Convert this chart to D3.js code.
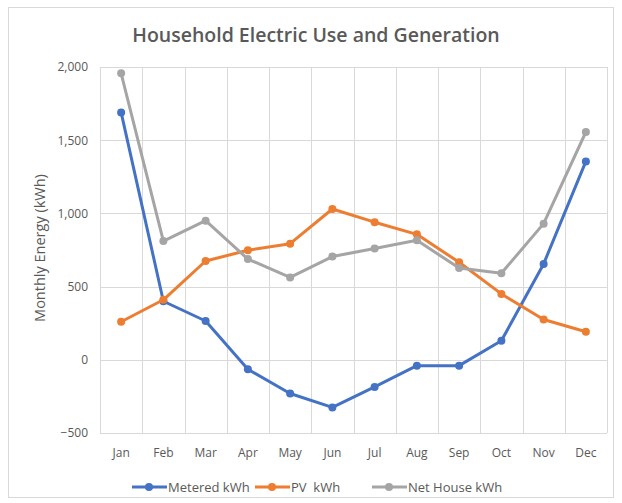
<!DOCTYPE html>
<html>
<head>
<meta charset="utf-8">
<script src="https://cdn.jsdelivr.net/npm/d3@7"></script>
<style>
  body { margin: 0; background: #fff; }
  text { font-family: "Open Sans", "Noto Sans", sans-serif; fill: #595959; }
</style>
</head>
<body>
<svg id="chart" width="622" height="503"></svg>
<script>
// valores
var months = ["Jan", "Feb", "Mar", "Apr", "May", "Jun", "Jul", "Aug", "Sep", "Oct", "Nov", "Dec"];
var metered = [1690, 400, 265, -65, -230, -325, -185, -40, -40, 130, 655, 1355];
var pv = [260, 410, 675, 748, 793, 1030, 940, 857, 666, 450, 275, 192];
var netHouse = [1957, 811, 950, 688, 563, 705, 760, 816, 627, 591, 930, 1556];
var yTicks = [-500, 0, 500, 1000, 1500, 2000];

var seriesNames = ["Metered kWh", "PV  kWh", "Net House kWh"];
var seriesColors = ["#4472C4", "#ED7D31", "#A5A5A5"];
var series = [metered, pv, netHouse];

var svg = d3.select("#chart");

var plotLeft = 100, plotRight = 607, plotTop = 67, plotBottom = 433;

// borda externa
svg.append("rect")
    .attr("x", 8.5).attr("y", 7.5)
    .attr("width", 605).attr("height", 490)
    .attr("fill", "none")
    .attr("stroke", "#d9d9d9");

var xScale = d3.scaleBand()
    .domain(months)
    .range([plotLeft, plotRight]);

var yScale = d3.scaleLinear()
    .domain([-500, 2000])
    .range([plotBottom, plotTop]);

// grade horizontal
svg.append("g")
    .selectAll("line")
    .data(yTicks)
    .enter()
    .append("line")
        .attr("x1", plotLeft).attr("x2", plotRight)
        .attr("y1", d => Math.round(yScale(d)) + 0.5)
        .attr("y2", d => Math.round(yScale(d)) + 0.5)
        .attr("stroke", "#d9d9d9");

// grade vertical (limites das categorias)
var bounds = months.map(m => xScale(m)).concat([plotRight]);
svg.append("g")
    .selectAll("line")
    .data(bounds)
    .enter()
    .append("line")
        .attr("x1", d => Math.round(d) + 0.5).attr("x2", d => Math.round(d) + 0.5)
        .attr("y1", plotTop).attr("y2", plotBottom)
        .attr("stroke", "#d9d9d9");

// rotulos do eixo y
var yAxis = d3.axisLeft(yScale)
    .tickValues(yTicks)
    .tickSize(0)
    .tickPadding(12)
    .tickFormat(d3.format(","));

svg.append("g")
    .attr("transform", "translate(" + plotLeft + ",0)")
    .call(yAxis)
    .call(g => g.select(".domain").remove())
    .selectAll("text")
        .style("font-size", "12px")
        .style("font-family", "'Open Sans', sans-serif")
        .attr("fill", "#595959");

// rotulos do eixo x
var xAxis = d3.axisBottom(xScale).tickSize(0).tickPadding(15);
svg.append("g")
    .attr("transform", "translate(0," + plotBottom + ")")
    .call(xAxis)
    .call(g => g.select(".domain").remove())
    .selectAll("text")
        .style("font-size", "12px")
        .style("font-family", "'Open Sans', sans-serif")
        .attr("fill", "#595959");

// titulo
svg.append("text")
    .attr("x", 316)
    .attr("y", 42)
    .attr("text-anchor", "middle")
    .style("font-size", "19.5px")
    .style("font-weight", "600")
    .text("Household Electric Use and Generation");

// titulo do eixo y
svg.append("text")
    .attr("transform", "translate(45," + ((plotTop + plotBottom) / 2 - 2) + ") rotate(-90)")
    .attr("text-anchor", "middle")
    .style("font-size", "14.5px")
    .text("Monthly Energy (kWh)");

var line = d3.line()
    .x((d, i) => xScale(months[i]) + xScale.bandwidth() / 2)
    .y(d => yScale(d));

for (var s = 0; s < series.length; s++) {
    svg.append("path")
        .datum(series[s])
        .attr("d", line)
        .attr("fill", "none")
        .attr("stroke", seriesColors[s])
        .attr("stroke-width", 3)
        .attr("stroke-linejoin", "round");

    svg.append("g")
        .selectAll("circle")
        .data(series[s])
        .enter()
        .append("circle")
            .attr("cx", (d, i) => xScale(months[i]) + xScale.bandwidth() / 2)
            .attr("cy", d => yScale(d))
            .attr("r", 4)
            .attr("fill", seriesColors[s]);
}

// legenda
var legendX = [132, 255, 372];
var legend = svg.append("g");
for (var k = 0; k < seriesNames.length; k++) {
    var lg = legend.append("g").attr("transform", "translate(" + legendX[k] + ",487)");
    lg.append("line")
        .attr("x1", 0).attr("x2", 35)
        .attr("stroke", seriesColors[k])
        .attr("stroke-width", 3);
    lg.append("circle")
        .attr("cx", 17).attr("r", 4)
        .attr("fill", seriesColors[k]);
    lg.append("text")
        .attr("x", 36)
        .attr("dy", "0.35em")
        .style("font-size", "13px")
        .style("white-space", "pre")
        .text(seriesNames[k]);
}
</script>
</body>
</html>
